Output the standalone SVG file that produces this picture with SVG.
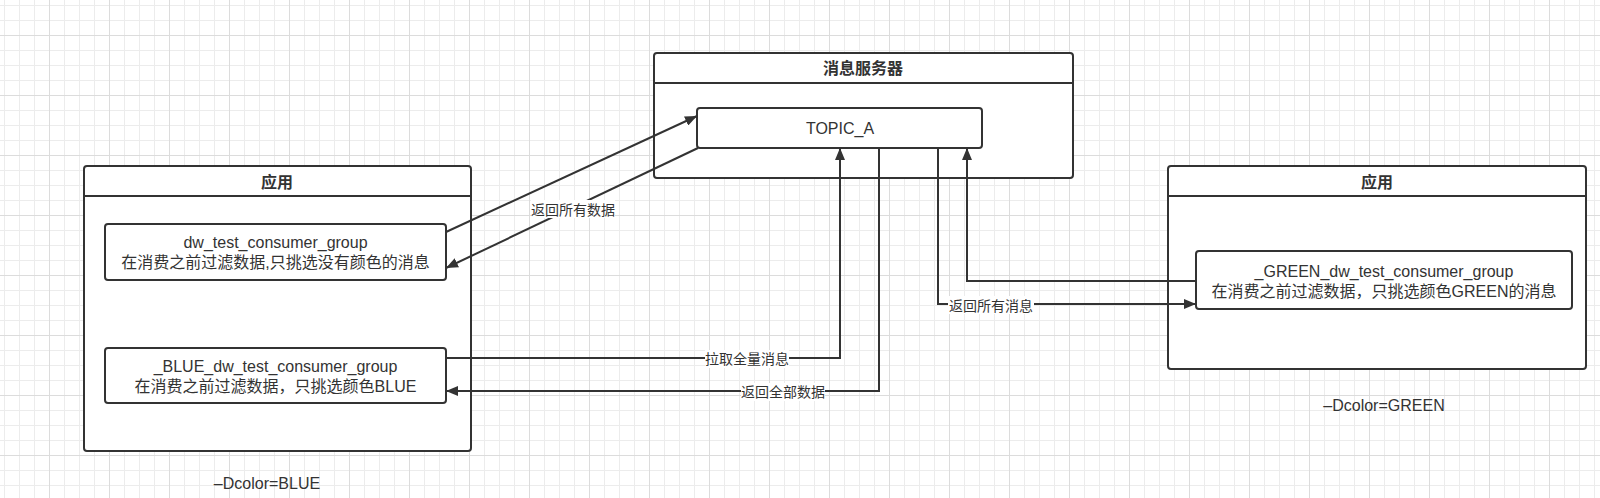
<svg xmlns="http://www.w3.org/2000/svg" width="1600" height="498" viewBox="0 0 1600 498">
<defs>
<pattern id="grid" x="49" y="35" width="60" height="60" patternUnits="userSpaceOnUse">
<rect x="0" y="0" width="60" height="60" fill="#ffffff"/>
<g fill="#ececec">
<rect x="15" y="0" width="1" height="60"/><rect x="30" y="0" width="1" height="60"/><rect x="45" y="0" width="1" height="60"/>
<rect x="0" y="15" width="60" height="1"/><rect x="0" y="30" width="60" height="1"/><rect x="0" y="45" width="60" height="1"/>
</g>
<g fill="#dcdcdc">
<rect x="0" y="0" width="1" height="60"/><rect x="0" y="0" width="60" height="1"/>
</g>
</pattern>
<marker id="arr" viewBox="0 0 12 10" refX="12" refY="5" markerWidth="12" markerHeight="10" markerUnits="userSpaceOnUse" orient="auto">
<path d="M0,0 L12,5 L0,10 z" fill="#333333"/>
</marker>
<style>
.box{fill:#ffffff;stroke:#333333;stroke-width:2}
.hdr{stroke:#333333;stroke-width:2;fill:none}
.t{font-family:"Liberation Sans","Noto Sans CJK SC",sans-serif;font-size:16px;fill:#333333;text-anchor:middle}
.b{font-weight:bold}
.lbl{font-family:"Liberation Sans","Noto Sans CJK SC",sans-serif;font-size:14px;fill:#333333;text-anchor:middle}
.lbg{fill:#ffffff}
.c{fill:none;stroke:#333333;stroke-width:2;marker-end:url(#arr)}
</style>
</defs>
<rect x="0" y="0" width="1600" height="498" fill="url(#grid)"/>

<g id="server">
<rect class="box" x="654" y="53" width="419" height="125" rx="3"/>
<line class="hdr" x1="654" y1="83" x2="1073" y2="83"/>
<text class="t b" x="863" y="74">消息服务器</text>
</g>
<g id="topic_a">
<rect class="box" x="697" y="108" width="285" height="40" rx="3"/>
<text class="t" x="840" y="134">TOPIC_A</text>
</g>

<g id="app_left">
<rect class="box" x="84" y="166" width="387" height="285" rx="3"/>
<line class="hdr" x1="84" y1="196" x2="471" y2="196"/>
<text class="t b" x="277" y="188">应用</text>
</g>
<g id="group_default">
<rect class="box" x="105" y="224" width="341" height="56" rx="3"/>
<text class="t" x="275.5" y="248">dw_test_consumer_group</text>
<text class="t" x="275.5" y="268">在消费之前过滤数据,只挑选没有颜色的消息</text>
</g>
<g id="group_blue">
<rect class="box" x="105" y="348" width="341" height="55" rx="3"/>
<text class="t" x="275.5" y="372">_BLUE_dw_test_consumer_group</text>
<text class="t" x="275.5" y="392">在消费之前过滤数据，只挑选颜色BLUE</text>
</g>
<g id="note_blue">
<text class="t" x="267" y="489">–Dcolor=BLUE</text>
</g>

<g id="app_right">
<rect class="box" x="1168" y="166" width="418" height="203" rx="3"/>
<line class="hdr" x1="1168" y1="196" x2="1586" y2="196"/>
<text class="t b" x="1377" y="188">应用</text>
</g>
<g id="group_green">
<rect class="box" x="1196" y="251" width="376" height="58" rx="3"/>
<text class="t" x="1384" y="277">_GREEN_dw_test_consumer_group</text>
<text class="t" x="1384" y="297">在消费之前过滤数据，只挑选颜色GREEN的消息</text>
</g>
<g id="note_green">
<text class="t" x="1384" y="411">–Dcolor=GREEN</text>
</g>

<g id="connectors">
<path class="c" d="M446,232 L697,116"/>
<path class="c" d="M698,148 L446,268"/>
<path class="c" d="M446,358 L840,358 L840,148"/>
<path class="c" d="M879,148 L879,391 L446,391"/>
<path class="c" d="M938,148 L938,304 L1196,304"/>
<path class="c" d="M1196,281 L967,281 L967,148"/>
<rect class="lbg" x="531" y="200" width="84" height="18"/>
<text class="lbl" x="573" y="215">返回所有数据</text>
<rect class="lbg" x="705" y="350" width="84" height="18"/>
<text class="lbl" x="747" y="364">拉取全量消息</text>
<rect class="lbg" x="741" y="383" width="84" height="18"/>
<text class="lbl" x="783" y="397">返回全部数据</text>
<rect class="lbg" x="948" y="296" width="86" height="18"/>
<text class="lbl" x="991" y="311">返回所有消息</text>
</g>
</svg>
